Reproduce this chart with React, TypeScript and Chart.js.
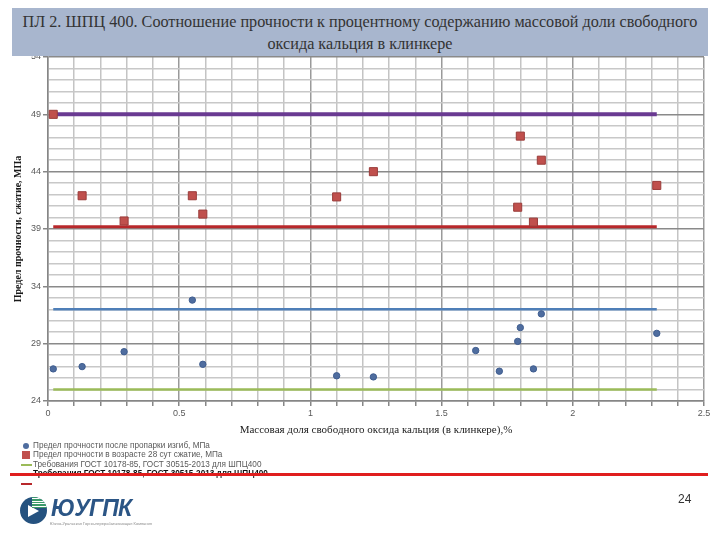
import React, { useEffect, useRef } from "react";
import { Chart, registerables } from "chart.js";

Chart.register(...registerables);

// ---- data ----
const xValues = [0.02, 0.13, 0.29, 0.55, 0.59, 1.1, 1.24, 1.63, 1.72, 1.79, 1.8, 1.85, 1.88, 2.32];
const steamStrength = [26.8, 27.0, 28.3, 32.8, 27.2, 26.2, 26.1, 28.4, 26.6, 29.2, 30.4, 26.8, 31.6, 29.9];
const day28Strength = [49.0, 41.9, 39.7, 41.9, 40.3, 41.8, 44.0, null, null, 40.9, 47.1, 39.6, 45.0, 42.8];
const reqLineX = [0.02, 2.32];
const reqSteamLow = 25.0;
const reqSteamHigh = 32.0;
const req28Low = 39.2;
const req28High = 49.0;

const seriesLabels = [
  "Предел прочности после пропарки изгиб, МПа",
  "Предел прочности в возрасте 28 сут  сжатие, МПа",
  "Требования ГОСТ 10178-85, ГОСТ 30515-2013 для ШПЦ400",
  "Требования ГОСТ 10178-85, ГОСТ 30515-2013 для ШПЦ400",
  "",
  "",
];
const seriesColors = ["#4f6d9f", "#c0504d", "#9bbb59", "#4f7fb8", "#b8282b", "#6a3a92"];

const titleText = [
  "ПЛ 2. ШПЦ 400. Соотношение прочности к  процентному содержанию массовой доли свободного",
  "оксида кальция в клинкере",
];
const xTitle = "Массовая доля свободного оксида кальция (в клинкере),%";
const yTitle = "Предел прочности, сжатие, МПа";
const yMin = 24;
const yMax = 54;
const xMin = 0;
const xMax = 2.5;

function pts(xs: number[], ys: (number | null)[]) {
  return xs.map((x, i) => ({ x, y: ys[i] as number }));
}
function hline(y: number) {
  return reqLineX.map((x) => ({ x, y }));
}

export default function App() {
  const ref = useRef<HTMLCanvasElement | null>(null);

  useEffect(() => {
    if (!ref.current) return;
    const isXMajor = (v: number) => Math.abs(v * 2 - Math.round(v * 2)) < 1e-6;
    const isYMajor = (v: number) => Math.abs((v - yMin) % 5) < 1e-6;
    const chart = new Chart(ref.current, {
      type: "scatter",
      data: {
        datasets: [
          {
            label: seriesLabels[0],
            data: pts(xValues, steamStrength),
            pointStyle: "circle",
            pointRadius: 3.2,
            backgroundColor: seriesColors[0],
            borderColor: "#3f5d8f",
            borderWidth: 1,
          },
          {
            label: seriesLabels[1],
            data: pts(xValues, day28Strength),
            pointStyle: "rect",
            pointRadius: 5.7,
            backgroundColor: seriesColors[1],
            borderColor: "#9a3c3a",
            borderWidth: 1,
          },
          {
            label: seriesLabels[2],
            data: hline(reqSteamLow),
            showLine: true,
            pointRadius: 0,
            borderColor: seriesColors[2],
            borderWidth: 2.5,
          },
          {
            label: seriesLabels[3],
            data: hline(reqSteamHigh),
            showLine: true,
            pointRadius: 0,
            borderColor: seriesColors[3],
            borderWidth: 2.5,
          },
          {
            label: seriesLabels[4],
            data: hline(req28Low),
            showLine: true,
            pointRadius: 0,
            borderColor: seriesColors[4],
            borderWidth: 3,
          },
          {
            label: seriesLabels[5],
            data: hline(req28High),
            showLine: true,
            pointRadius: 0,
            borderColor: seriesColors[5],
            borderWidth: 4,
          },
        ],
      },
      options: {
        animation: false,
        responsive: false,
        devicePixelRatio: 1,
        layout: { padding: { left: 0, top: 57, right: 16, bottom: 95 } },
        plugins: { legend: { display: false }, tooltip: { enabled: false } },
        scales: {
          x: {
            type: "linear",
            min: xMin,
            max: xMax,
            afterFit: (s: any) => {
              s.height = 44;
            },
            ticks: {
              stepSize: 0.1,
              autoSkip: false,
              maxRotation: 0,
              padding: 2,
              color: "#595959",
              font: { family: "Liberation Sans", size: 9 },
              callback: (v: any) => {
                const n = Number(v);
                return isXMajor(n) ? String(Math.round(n * 10) / 10) : "";
              },
            },
            grid: {
              lineWidth: 1.5,
              tickLength: 5,
              color: (c: any) => (isXMajor(c.tick.value) ? "#9a9a9a" : "#c4c4c4"),
              tickColor: "#868686",
            },
            border: { color: "#868686", width: 1.5 },
            title: {
              display: true,
              text: xTitle,
              color: "#222222",
              font: { family: "Liberation Serif", size: 11 },
              padding: { top: 0, bottom: 8 },
            },
          },
          y: {
            type: "linear",
            min: yMin,
            max: yMax,
            afterFit: (s: any) => {
              s.width = 48;
            },
            ticks: {
              stepSize: 1,
              autoSkip: false,
              padding: 2,
              color: "#595959",
              font: { family: "Liberation Sans", size: 9 },
              callback: (v: any) => (isYMajor(Number(v)) ? String(v) : ""),
            },
            grid: {
              lineWidth: 1.5,
              tickLength: 5,
              color: (c: any) => (isYMajor(c.tick.value) ? "#8a8a8a" : "#c8c8c8"),
              tickColor: (c: any) => (isYMajor(c.tick.value) ? "#868686" : "rgba(0,0,0,0)"),
            },
            border: { color: "#868686", width: 1.5 },
            title: {
              display: true,
              text: yTitle,
              color: "#1a1a1a",
              font: { family: "Liberation Serif", size: 10, weight: "bold" },
              padding: { top: 12, bottom: 0 },
            },
          },
        },
      },
    });
    return () => chart.destroy();
  }, []);

  const legendRows = [0, 1, 2, 3, 4];

  return (
    <div style={{ position: "absolute", left: 0, top: 0, width: 720, height: 540, background: "#ffffff", overflow: "hidden" }}>
      <canvas ref={ref} width={720} height={540} style={{ position: "absolute", left: 0, top: 0 }} />

      {/* title box */}
      <div
        style={{
          position: "absolute",
          left: 12,
          top: 8,
          width: 696,
          height: 48,
          background: "#a8b6ce",
          boxSizing: "border-box",
          paddingTop: 3,
          textAlign: "center",
          fontFamily: "'Liberation Serif', 'Times New Roman', serif",
          fontSize: 16.2,
          lineHeight: "22px",
          color: "#333333",
          whiteSpace: "nowrap",
        }}
      >
        <div>{titleText[0]}</div>
        <div>{titleText[1]}</div>
      </div>

      {/* legend */}
      {legendRows.map((i) => {
        const top = 440.5 + i * 9.6;
        const color = seriesColors[i];
        let marker: any;
        if (i === 0) {
          marker = <div style={{ position: "absolute", left: 23, top: 2, width: 6, height: 6, borderRadius: 3, background: color }} />;
        } else if (i === 1) {
          marker = <div style={{ position: "absolute", left: 22, top: 1, width: 8, height: 8, background: color }} />;
        } else {
          marker = <div style={{ position: "absolute", left: 21, top: 4, width: 11, height: 2.5, background: color }} />;
        }
        return (
          <div key={i} style={{ position: "absolute", left: 0, top, width: 400, height: 10 }}>
            {marker}
            <div
              style={{
                position: "absolute",
                left: 33,
                top: -1,
                fontFamily: "'Liberation Sans', Arial, sans-serif",
                fontSize: 8.2,
                lineHeight: "11px",
                color: i === 3 ? "#111111" : "#595959",
                fontWeight: i === 3 ? "bold" : "normal",
                whiteSpace: "nowrap",
              }}
            >
              {seriesLabels[i]}
            </div>
          </div>
        );
      })}

      {/* red decorative rule */}
      <div style={{ position: "absolute", left: 10, top: 473, width: 698, height: 3, background: "#e01e1e" }} />

      {/* logo */}
      <div style={{ position: "absolute", left: 20, top: 497, width: 27, height: 27, borderRadius: 14, background: "#25527f", overflow: "hidden" }}>
        <div style={{ position: "absolute", left: 8, top: 8, width: 0, height: 0, borderTop: "6px solid transparent", borderBottom: "6px solid transparent", borderLeft: "11px solid #ffffff" }} />
        <div style={{ position: "absolute", left: 12, top: 0, width: 16, height: 11, background: "repeating-linear-gradient(180deg, #3a9a6a 0px, #3a9a6a 1.5px, #ffffff 1.5px, #ffffff 2.5px)" }} />
      </div>
      <div
        style={{
          position: "absolute",
          left: 51,
          top: 495,
          fontFamily: "'Liberation Sans', Arial, sans-serif",
          fontWeight: "bold",
          fontStyle: "italic",
          fontSize: 23,
          lineHeight: "26px",
          color: "#2b5585",
          letterSpacing: -0.8,
        }}
      >
        ЮУГПК
      </div>
      <div
        style={{
          position: "absolute",
          left: 50,
          top: 521,
          fontFamily: "'Liberation Sans', Arial, sans-serif",
          fontSize: 4,
          lineHeight: "5px",
          color: "#8a8a8a",
          whiteSpace: "nowrap",
        }}
      >
        Южно-Уральская Горно-перерабатывающая Компания
      </div>

      {/* page number */}
      <div
        style={{
          position: "absolute",
          left: 678,
          top: 492,
          fontFamily: "'Liberation Sans', Arial, sans-serif",
          fontSize: 12,
          lineHeight: "14px",
          color: "#333333",
        }}
      >
        24
      </div>
    </div>
  );
}
